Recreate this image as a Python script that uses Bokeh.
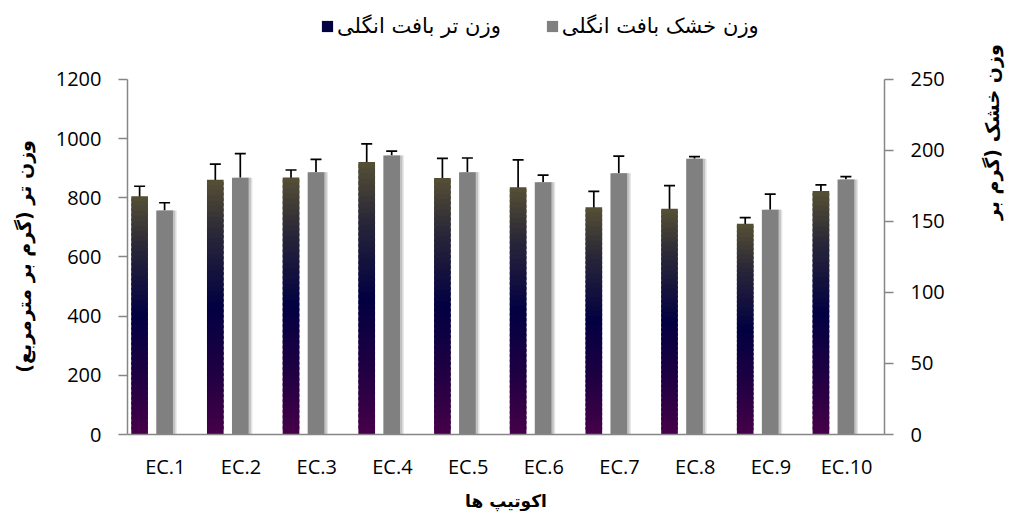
from bokeh.plotting import figure
from bokeh.models import (FactorRange, Range1d, LinearAxis, FixedTicker, Whisker,
                          ColumnDataSource, Legend, LegendItem, TeeHead)
from bokeh.transform import dodge
from bokeh.embed import file_html
from bokeh.resources import INLINE

# ---------------- data ----------------
categories = ["EC.1", "EC.2", "EC.3", "EC.4", "EC.5", "EC.6", "EC.7", "EC.8", "EC.9", "EC.10"]
wet_weight = [805, 861, 869, 921, 867, 836, 768, 763, 712, 823]        # left axis
wet_error = [34, 53, 25, 61, 66, 92, 54, 78, 21, 21]
dry_weight = [157.7, 180.8, 184.7, 196.5, 184.7, 177.7, 184.0, 194.1, 158.2, 179.6]  # right axis
dry_error = [5.5, 17, 9, 3, 10, 5, 12, 1.5, 11, 2]
left_ticks = [0, 200, 400, 600, 800, 1000, 1200]
right_ticks = [0, 50, 100, 150, 200, 250]
left_max = 1200
right_max = 250

legend_wet = "وزن تر بافت انگلی"
legend_dry = "وزن خشک بافت انگلی"
left_title = "وزن تر (گرم بر مترمربع)"
right_title = "وزن خشک (گرم بر"
x_title = "اکوتیپ ها"

# ---------------- styling ----------------
TICK_FONT = "Open Sans"
FA_FONT = "DejaVu Sans"
AXIS_GRAY = "#868686"
DARK_OFF = -0.34
GRAY_OFF = -0.01
BAR_W = 0.22
HEADROOM = 1.2083  # frame extends above the top tick to hold the legend

p = figure(x_range=FactorRange(factors=categories, range_padding=0),
           y_range=Range1d(0, left_max * HEADROOM), width=1016, height=518,
           output_backend="svg", toolbar_location=None,
           min_border_left=127, min_border_right=124,
           min_border_top=5, min_border_bottom=84)
p.extra_y_ranges = {"right": Range1d(0, right_max * HEADROOM)}
p.outline_line_color = None
p.xgrid.visible = False
p.ygrid.visible = False
p.background_fill_color = "white"
p.border_fill_color = "white"

# ---- gradient (dark) bars built from stacked slices ----
stops = [(0.0, (86, 80, 52)), (0.22, (40, 38, 56)), (0.5, (2, 0, 66)),
         (0.75, (30, 0, 66)), (1.0, (70, 0, 72))]


def grad(t):
    for (t0, c0), (t1, c1) in zip(stops[:-1], stops[1:]):
        if t0 <= t <= t1:
            f = (t - t0) / (t1 - t0) if t1 > t0 else 0
            c = [round(a + (b - a) * f) for a, b in zip(c0, c1)]
            return "#%02x%02x%02x" % tuple(c)
    return "#%02x%02x%02x" % stops[-1][1]


N = 48
seg = dict(cat=[], bottom=[], top=[], color=[])
for c, v in zip(categories, wet_weight):
    for i in range(N):
        seg["cat"].append(c)
        seg["bottom"].append(v * i / N)
        seg["top"].append(v * min(i + 1.6, N) / N)
        t = 1 - (i + 0.5) / N  # 0 at top, 1 at bottom
        seg["color"].append(grad(t))
seg_src = ColumnDataSource(seg)
r_dark = p.vbar(x=dodge("cat", DARK_OFF, range=p.x_range), bottom="bottom", top="top",
                width=BAR_W, fill_color="color", line_color=None, source=seg_src)

# ---- gray bars with soft shadow ----
src = ColumnDataSource(dict(
    cat=categories, wet=wet_weight,
    wet_lo=[v - e for v, e in zip(wet_weight, wet_error)],
    wet_hi=[v + e for v, e in zip(wet_weight, wet_error)],
    dry=dry_weight,
    dry_lo=[v - e for v, e in zip(dry_weight, dry_error)],
    dry_hi=[v + e for v, e in zip(dry_weight, dry_error)],
))
p.vbar(x=dodge("cat", GRAY_OFF + 0.05, range=p.x_range), top="dry", width=BAR_W,
       fill_color="#e4e4e4", line_color=None, source=src, y_range_name="right")
p.vbar(x=dodge("cat", GRAY_OFF + 0.03, range=p.x_range), top="dry", width=BAR_W,
       fill_color="#c2c2c2", line_color=None, source=src, y_range_name="right")
r_gray = p.vbar(x=dodge("cat", GRAY_OFF, range=p.x_range), top="dry", width=BAR_W,
                fill_color="#808080", line_color=None, source=src, y_range_name="right")

# ---- error bars ----
w1 = Whisker(base=dodge("cat", DARK_OFF, range=p.x_range), upper="wet_hi", lower="wet_lo",
             source=src, line_color="black", line_width=1.7,
             upper_head=TeeHead(size=11, line_color="black", line_width=1.7),
             lower_head=TeeHead(size=11, line_color="black", line_width=1.7))
w2 = Whisker(base=dodge("cat", GRAY_OFF, range=p.x_range), upper="dry_hi", lower="dry_lo",
             source=src, line_color="black", line_width=1.7, y_range_name="right",
             upper_head=TeeHead(size=11, line_color="black", line_width=1.7),
             lower_head=TeeHead(size=11, line_color="black", line_width=1.7))
p.add_layout(w1)
p.add_layout(w2)

# ---- axes ----
ya = p.yaxis[0]
ya.ticker = FixedTicker(ticks=left_ticks)
ya.bounds = (0, left_max)
ra = LinearAxis(y_range_name="right", ticker=FixedTicker(ticks=right_ticks),
                bounds=(0, right_max))
p.add_layout(ra, "right")
for ax in (ya, ra):
    ax.axis_line_color = AXIS_GRAY
    ax.axis_line_width = 1.5
    ax.major_tick_line_color = AXIS_GRAY
    ax.major_tick_line_width = 1.5
    ax.major_tick_out = 9
    ax.major_tick_in = 0
    ax.minor_tick_out = 0
    ax.minor_tick_in = 0
    ax.major_label_text_font = TICK_FONT
    ax.major_label_text_font_size = "20px"
    ax.major_label_text_color = "black"
    ax.major_label_standoff = 17
    ax.axis_label_text_font = FA_FONT
    ax.axis_label_text_font_style = "bold"
    ax.axis_label_text_font_size = "19px"
    ax.axis_label_text_color = "black"

# axis titles are centred on the (taller) frame; no-break spaces shift them down
ya.axis_label = left_title + "\u00a0" * 11
ya.axis_label_standoff = 18

# right title reads bottom-to-top and hangs below the frame centre
ra.axis_label = right_title + "\u00a0"
ra.axis_label_orientation = 1.5707963
ra.axis_label_text_align = "right"
ra.axis_label_standoff = 44

xa = p.xaxis[0]
xa.axis_line_color = AXIS_GRAY
xa.axis_line_width = 1.5
xa.major_tick_out = 0
xa.major_tick_in = 0
xa.minor_tick_out = 0
xa.major_label_text_font = TICK_FONT
xa.major_label_text_font_size = "20px"
xa.major_label_text_color = "black"
xa.major_label_standoff = 18
xa.axis_label = x_title
xa.axis_label_text_font = FA_FONT
xa.axis_label_text_font_style = "bold"
xa.axis_label_text_font_size = "17px"
xa.axis_label_text_color = "black"
xa.axis_label_standoff = 8

# ---- legend (in the headroom at the top of the frame) ----
legend = Legend(items=[LegendItem(label=legend_wet, renderers=[r_dark], index=N // 2),
                       LegendItem(label=legend_dry, renderers=[r_gray], index=0)],
                orientation="horizontal", location=(193, 396),
                glyph_width=14, glyph_height=14, label_standoff=3, spacing=44,
                padding=0, margin=0, border_line_color=None, background_fill_alpha=0,
                label_text_font=FA_FONT, label_text_font_size="21px",
                label_text_color="black", label_height=22)
p.add_layout(legend, "center")

open("out.html", "w").write(file_html(p, INLINE))
